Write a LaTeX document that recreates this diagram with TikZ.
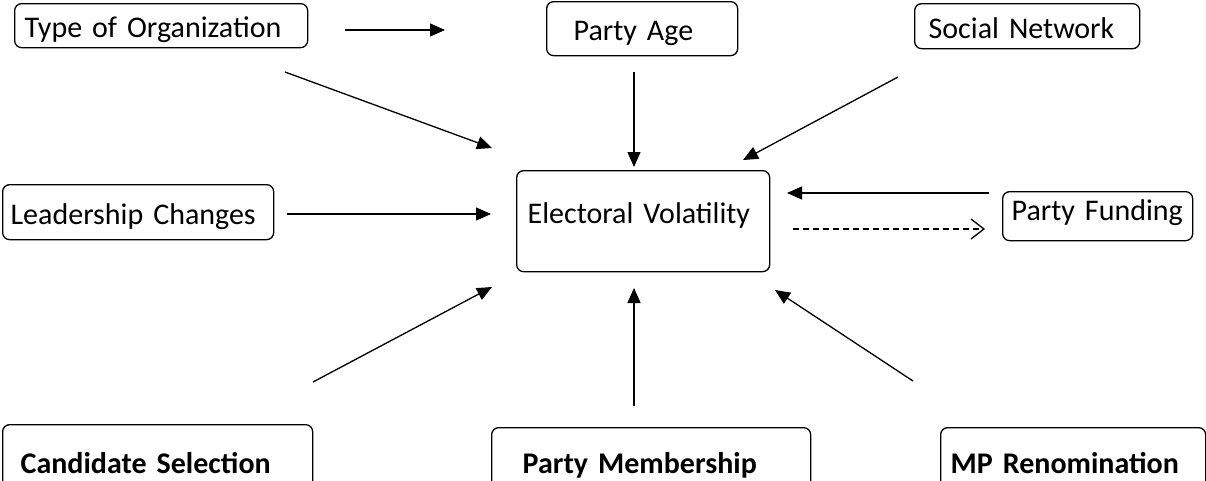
\documentclass[tikz,border=0pt]{standalone}
\usepackage{fontspec}
\setmainfont{Carlito}
\usetikzlibrary{arrows.meta}
\usetikzlibrary{positioning}

\begin{document}
\begin{tikzpicture}[
	x=1pt, y=-1pt, line width=1.3pt,
  > = {Triangle[length=15pt,width=13pt]},
  box/.style = {draw, rounded corners=7pt, anchor=north west, inner ysep=0pt, align=left,
    font=\fontsize{30}{36}\selectfont, text height=30pt, text depth=6pt},
  boldbox/.style = {box, font=\fontsize{30}{36}\selectfont\bfseries},
  feedback/.style = {dash pattern=on 6pt off 4pt, -{Straight Barb[length=13pt,width=20pt]}}
  ]
	\useasboundingbox (0,0) rectangle (1206,480);

	\node[box, inner xsep=10pt, text width=273pt, minimum height=44pt] (organization) at (14,3) {Type of Organization};
	\node[box, inner xsep=27pt, text width=137pt, minimum height=54pt] (partyage) at (546,1) {Party Age};
	\node[box, inner xsep=14pt, text width=197pt, minimum height=45pt] (network) at (914,3) {Social Network};
	\node[box, inner xsep=8pt, text width=255pt, minimum height=55pt] (leadership) at (2,184) {Leadership Changes};
	\node[box, inner xsep=11pt, text width=231pt, minimum height=101pt, text height=20pt, text depth=16pt] (volatility) at (516,170) {Electoral Volatility};
	\node[box, inner xsep=9pt, text width=172pt, minimum height=49pt, text height=22pt, text depth=14pt] (funding) at (1002,191) {Party Funding};
	\node[boldbox, inner xsep=18pt, text width=274pt, minimum height=74pt] (candidate) at (2,424) {Candidate Selection};
	\node[boldbox, inner xsep=31pt, text width=257pt, minimum height=68pt] (membership) at (491,427) {Party Membership};
	\node[boldbox, inner xsep=10pt, text width=245pt, minimum height=68pt] (renomination) at (940,427) {MP Renomination};

	\coordinate (@1) at (345,30);
	\coordinate (@2) at (445,30);
	\coordinate (@3) at (285,72);
	\coordinate (@4) at (492,148);
	\coordinate (@5) at (634,72);
	\coordinate (@6) at (634,167);
	\coordinate (@7) at (898,77);
	\coordinate (@8) at (743,160);
	\coordinate (@9) at (287,214);
	\coordinate (@10) at (491,214);
	\coordinate (@11) at (989,193);
	\coordinate (@12) at (787,193);
	\coordinate (@13) at (793,229);
	\coordinate (@14) at (985,229);
	\coordinate (@15) at (313,382);
	\coordinate (@16) at (492,287);
	\coordinate (@17) at (634,406);
	\coordinate (@18) at (634,288);
	\coordinate (@19) at (913,381);
	\coordinate (@20) at (775,290);

	\draw[->] (@1) to (@2);
	\draw[->] (@3) to (@4);
	\draw[->] (@5) to (@6);
	\draw[->] (@7) to (@8);
	\draw[->] (@9) to (@10);
	\draw[->] (@11) to (@12);
	\draw[feedback] (@13) to (@14);
	\draw[->] (@15) to (@16);
	\draw[->] (@17) to (@18);
	\draw[->] (@19) to (@20);

\end{tikzpicture}
\end{document}
